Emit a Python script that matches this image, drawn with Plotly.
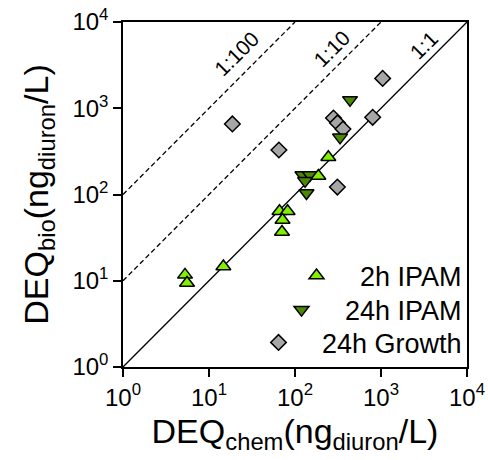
import plotly.graph_objects as go

# ---- data ----
ipam2h_x = [5.26, 5.55, 14.7, 66, 82, 71.6, 70.6, 187, 244]
ipam2h_y = [11.7, 9.4, 14.6, 64, 64, 50.6, 36.7, 164, 270]

ipam24h_x = [436, 334, 122, 149, 131, 136]
ipam24h_y = [1250, 460, 168, 168, 144, 104]

growth_x = [18.7, 1045, 800, 65, 311, 280, 312, 361]
growth_y = [657, 2220, 785, 328, 122, 771, 675, 574]

ratios = [1, 10, 100]
ratio_labels = ["1:1", "1:10", "1:100"]
axis_min, axis_max = 1, 10000

tick_vals = [1, 10, 100, 1000, 10000]
tick_text = ["10<sup>0</sup>", "10<sup>1</sup>", "10<sup>2</sup>", "10<sup>3</sup>", "10<sup>4</sup>"]

FONT = "Liberation Sans, Arial, sans-serif"
C_LIGHT = "#80f000"
C_DARK = "#4b8a00"
C_GRAY = "#a6a6a6"

fig = go.Figure()

# reference lines y = ratio * x
for r in ratios:
    xs = [axis_min, axis_max / r]
    ys = [axis_min * r, axis_max]
    fig.add_trace(go.Scatter(
        x=xs, y=ys, mode="lines", showlegend=False, hoverinfo="skip",
        line=dict(color="black", width=1.3, dash="solid" if r == 1 else "5px,3px"),
    ))

mline = dict(color="black", width=1.5)
fig.add_trace(go.Scatter(
    x=growth_x, y=growth_y, mode="markers", name="24h Growth", legend="legend3",
    marker=dict(symbol="diamond", size=12, color=C_GRAY, line=mline),
))
fig.add_trace(go.Scatter(
    x=ipam24h_x, y=ipam24h_y, mode="markers", name="24h IPAM", legend="legend2",
    marker=dict(symbol="triangle-down", size=13, color=C_DARK, line=mline),
))
fig.add_trace(go.Scatter(
    x=ipam2h_x, y=ipam2h_y, mode="markers", name="2h IPAM", legend="legend",
    marker=dict(symbol="triangle-up", size=13, color=C_LIGHT, line=mline),
))

# ratio labels (positions in log10 units)
label_pos = {"1:1": (3.492, 3.733), "1:10": (2.427, 3.695), "1:100": (1.322, 3.637)}
for lab in ratio_labels:
    px, py = label_pos[lab]
    fig.add_annotation(x=px, y=py, xref="x", yref="y", text=lab, showarrow=False,
                       textangle=-45, font=dict(family=FONT, size=21, color="black"))

axis_common = dict(
    type="log", range=[0, 4], tickvals=tick_vals, ticktext=tick_text,
    ticks="outside", ticklen=8, tickwidth=1.5, tickcolor="black",
    showline=True, linewidth=1.5, linecolor="black", mirror=True,
    showgrid=False, zeroline=False, automargin=False,
    tickfont=dict(family=FONT, size=24, color="black"),
)

leg_common = dict(
    x=1.0, xanchor="right", yanchor="middle", bgcolor="rgba(0,0,0,0)",
    font=dict(family=FONT, size=27, color="black"), itemwidth=77,
    borderwidth=0,
)

fig.update_layout(
    width=488, height=460,
    margin=dict(l=123, r=21, t=22, b=93),
    paper_bgcolor="white", plot_bgcolor="white",
    font=dict(family=FONT, color="black"),
    xaxis=dict(axis_common, title=dict(text="DEQ<sub>chem</sub>(ng<sub>diuron</sub>/L)",
                                       font=dict(family=FONT, size=34), standoff=10)),
    yaxis=dict(axis_common, title=dict(text="DEQ<sub>bio</sub>(ng<sub>diuron</sub>/L)",
                                       font=dict(family=FONT, size=34), standoff=14)),
    legend=dict(leg_common, y=0.264),
    legend2=dict(leg_common, y=0.165),
    legend3=dict(leg_common, y=0.070),
)

fig.write_html("out.html")
